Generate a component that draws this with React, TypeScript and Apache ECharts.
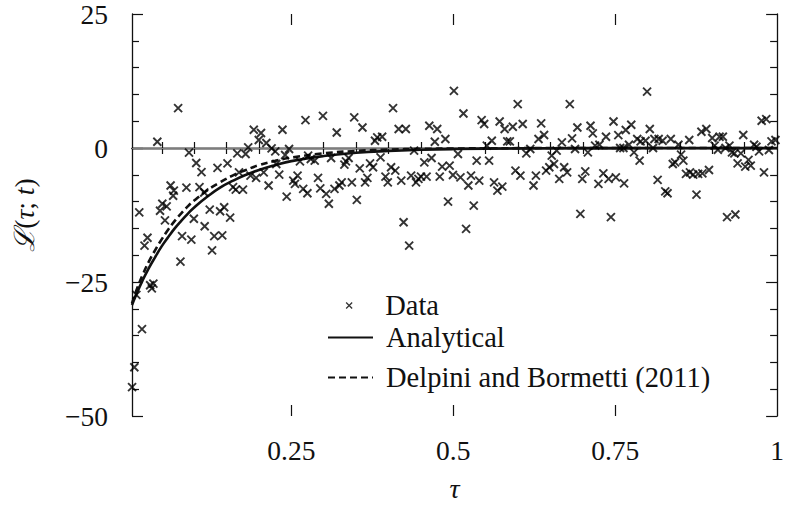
import { useEffect, useRef } from "react";
import * as echarts from "echarts";

// Scatter data (tau, L)
const dataTau = [
  0.0041, 0.0076, 0.0107, 0.0152, 0.0194, 0.0233, 0.0279, 0.032, 0.0346, 0.037,
  0.0431, 0.0473, 0.0508, 0.0549, 0.0575, 0.0636, 0.0675, 0.0686, 0.0752, 0.0788,
  0.0813, 0.088, 0.092, 0.0956, 0.0995, 0.1032, 0.1082, 0.1113, 0.1155, 0.1162,
  0.124, 0.1276, 0.131, 0.136, 0.14, 0.1433, 0.1463, 0.1514, 0.1555, 0.16,
  0.1642, 0.1666, 0.1692, 0.1753, 0.1794, 0.1834, 0.187, 0.192, 0.1956, 0.1997,
  0.2032, 0.2073, 0.2114, 0.2149, 0.2195, 0.2252, 0.2267, 0.2313, 0.2363, 0.2404,
  0.2428, 0.2465, 0.253, 0.2556, 0.2596, 0.2633, 0.2683, 0.2718, 0.2748, 0.2759,
  0.28, 0.2861, 0.2912, 0.2947, 0.2988, 0.3038, 0.3079, 0.3114, 0.3166, 0.3201,
  0.3242, 0.3277, 0.3319, 0.3343, 0.3384, 0.3434, 0.3471, 0.3511, 0.3556, 0.3598,
  0.3639, 0.3674, 0.3715, 0.3761, 0.3791, 0.3826, 0.3877, 0.3902, 0.3953, 0.3989,
  0.404, 0.407, 0.4105, 0.4157, 0.4197, 0.4233, 0.4268, 0.4319, 0.4349, 0.4395,
  0.4425, 0.4462, 0.4502, 0.4553, 0.4588, 0.463, 0.4665, 0.4715, 0.4752, 0.4791,
  0.4828, 0.4878, 0.4919, 0.4944, 0.4995, 0.501, 0.5072, 0.5111, 0.5157, 0.5198,
  0.5233, 0.5274, 0.5316, 0.5361, 0.5401, 0.5438, 0.5477, 0.5518, 0.5553, 0.5595,
  0.563, 0.5681, 0.5716, 0.5757, 0.5793, 0.5834, 0.5873, 0.5919, 0.596, 0.5995,
  0.6037, 0.6072, 0.6128, 0.6189, 0.6239, 0.6276, 0.6316, 0.6357, 0.6402, 0.6433,
  0.6483, 0.652, 0.6555, 0.6596, 0.6636, 0.6677, 0.6712, 0.6758, 0.6799, 0.6834,
  0.688, 0.6916, 0.6962, 0.6992, 0.7038, 0.7078, 0.7119, 0.7154, 0.719, 0.7241,
  0.7256, 0.7317, 0.7358, 0.7398, 0.7434, 0.7474, 0.751, 0.7548, 0.7576, 0.7627,
  0.7637, 0.7663, 0.7713, 0.7748, 0.779, 0.784, 0.7877, 0.7892, 0.7968, 0.7992,
  0.8034, 0.8084, 0.8105, 0.8155, 0.8171, 0.8232, 0.8273, 0.8308, 0.8358, 0.8389,
  0.8425, 0.8476, 0.8517, 0.8552, 0.8593, 0.8643, 0.8654, 0.8704, 0.8755, 0.878,
  0.8831, 0.8846, 0.8907, 0.8948, 0.8998, 0.9035, 0.9085, 0.9111, 0.9162, 0.9203,
  0.9227, 0.9264, 0.9303, 0.934, 0.9355, 0.939, 0.944, 0.9477, 0.9508, 0.9558,
  0.9593, 0.9645, 0.968, 0.9721, 0.9761, 0.9797, 0.9832, 0.9873, 0.9913, 0.9974,
];
const dataL = [
  -44.6, -40.9, -27.4, -12.0, -33.8, -18.2, -16.75, -25.6, -26.2, -25.3,
  1.17, -11.7, -10.4, -13.5, -10.9, -7.0, -8.9, -7.95, 7.44, -21.2,
  -16.45, -7.4, -0.87, -17.1, -13.2, -2.8, -7.3, -4.5, -8.3, -14.6,
  -11.5, -19.1, -16.45, -3.7, -11.8, -16.3, -11.05, -2.87, -13.0, -7.3,
  -7.76, -1.0, -4.54, -7.76, -1.12, 0.11, -5.16, 3.4, -5.58, 1.49,
  2.79, -4.54, 0.93, -7.0, -0.07, -0.63, -2.98, -4.97, 3.4, -1.3,
  -9.06, -0.19, -6.09, -6.7, -5.16, -2.49, -7.63, 5.2, -8.45, -1.43,
  -2.05, -2.36, -5.58, -7.52, 6.0, -8.56, -10.4, -1.86, -7.63, 2.9,
  -7.0, -6.4, -3.1, -2.49, -1.86, -6.4, 5.7, -9.68, -3.8, 3.83,
  -6.4, -5.58, -2.87, -3.6, 1.36, 1.97, -1.75, 2.1, -5.34, -6.4,
  -3.6, 7.44, -4.22, 3.54, -6.09, -13.85, 3.54, -18.2, -5.16, -0.5,
  -6.4, -5.77, -5.34, -2.68, -5.34, 4.15, -1.86, 1.17, 3.54, -5.34,
  -3.48, 1.68, -10.0, -3.3, -5.03, 10.66, -1.12, -5.47, 6.44, -15.1,
  -7.0, -5.16, -10.74, -2.36, -6.09, 5.2, 4.47, 0.43, -2.36, 1.36,
  -6.4, -7.95, 4.95, -7.2, 3.54, 1.23, 1.23, 3.96, -4.22, 8.19,
  -5.16, 4.47, -1.0, -0.19, -7.0, -5.16, 1.68, 4.58, 2.42, -4.22,
  -3.6, -1.43, -2.98, -0.5, -5.77, 1.04, -3.6, -4.54, 8.19, 1.79,
  -0.19, 3.83, -12.3, -5.77, -4.36, -0.82, 4.15, 2.72, 0.43, -6.7,
  0.61, -4.73, 2.1, -5.77, -12.9, 4.95, -5.47, 2.4, 0.0, 0.0,
  -6.59, 3.35, 0.61, 4.34, -0.82, 1.68, -2.36, 1.23, 1.36, 10.53,
  3.54, 0.0, 1.68, -5.96, 1.68, 1.36, -8.08, -8.45, 1.68, -2.98,
  -2.68, 0.61, -1.25, -2.36, -4.84, 1.49, -4.54, -4.97, -8.69, -4.84,
  3.03, -4.73, 3.54, -4.1, 1.86, 0.43, -0.32, 2.1, 2.1, 0.0,
  -12.9, 0.43, -0.82, -1.0, -12.4, -2.87, -1.0, 2.42, -3.48, -2.23,
  -3.3, 0.61, 0.24, -0.63, 5.08, -4.54, 5.4, -0.37, 1.23, 1.49,
];

// Analytical curve
const analyticalTau = [
  0.004, 0.01, 0.02, 0.03, 0.04, 0.05, 0.06, 0.07, 0.08, 0.09, 0.1, 0.12, 0.14,
  0.16, 0.18, 0.2, 0.225, 0.25, 0.3, 0.35, 0.4, 0.45, 0.5, 0.6, 0.7, 0.8, 0.9, 1.0,
];
const analyticalL = [
  -29.3, -27.5, -24.8, -22.4, -20.3, -18.3, -16.6, -15.0, -13.6, -12.3, -11.1, -9.1, -7.4,
  -6.1, -5.0, -4.1, -3.2, -2.45, -1.5, -0.9, -0.55, -0.33, -0.2, -0.07, -0.03, -0.01, 0, 0,
];

// Delpini and Bormetti (2011) curve
const delpiniTau = [
  0.004, 0.01, 0.02, 0.03, 0.04, 0.05, 0.06, 0.07, 0.08, 0.09, 0.1, 0.12, 0.14,
  0.16, 0.18, 0.2, 0.225, 0.25, 0.3, 0.35, 0.4, 0.45, 0.5, 0.6, 0.7, 1.0,
];
const delpiniL = [
  -29.0, -26.8, -23.8, -21.2, -19.0, -17.0, -15.2, -13.6, -12.2, -10.9, -9.8, -7.9, -6.4,
  -5.1, -4.1, -3.2, -2.4, -1.8, -1.0, -0.55, -0.3, -0.17, -0.1, -0.03, 0, 0,
];

const xMajorLabels = [0.25, 0.5, 0.75, 1];
const xMajorTicks = [0.25, 0.5, 0.75];
const xMinorTicks = [
  0.05, 0.1, 0.15, 0.2, 0.3, 0.35, 0.4, 0.45, 0.55, 0.6, 0.65, 0.7, 0.8, 0.85, 0.9, 0.95,
];

const FONT = "Liberation Serif, DejaVu Serif, serif";
const INK = "#111111";

export default function App() {
  const ref = useRef<HTMLDivElement>(null);
  useEffect(() => {
    document.body.style.margin = "0";
    if (!ref.current) return;
    const chart = echarts.init(ref.current, undefined, { renderer: "svg" });
    const axisLine = { show: true, lineStyle: { color: INK, width: 1.3 } };
    const tickLine = { color: INK, width: 1.2 };
    const scatter = dataTau.map((t, i) => [t, dataL[i]]);
    const analytical = analyticalTau.map((t, i) => [t, analyticalL[i]]);
    const delpini = delpiniTau.map((t, i) => [t, delpiniL[i]]);
    const baseX = { type: "value", min: 0.004, max: 1, splitLine: { show: false } };
    const textStyle = { fontFamily: FONT, fontSize: 28.5, color: INK, lineHeight: 28 };

    chart.setOption({
      animation: false,
      backgroundColor: "#ffffff",
      textStyle: { fontFamily: FONT },
      grid: { left: 132, right: 2, top: 13, bottom: 92, containLabel: false },
      xAxis: [
        {
          ...baseX,
          position: "bottom",
          axisLine,
          axisTick: { show: true, inside: true, length: 6, customValues: xMinorTicks, lineStyle: tickLine },
          axisLabel: {
            show: true,
            customValues: xMajorLabels,
            margin: 20,
            fontFamily: FONT,
            fontSize: 27.5,
            color: INK,
            formatter: (v: number) => (v === 1 ? "1" : String(v)),
          },
          name: "τ",
          nameLocation: "middle",
          nameGap: 58,
          nameTextStyle: { fontFamily: FONT, fontSize: 28, fontStyle: "italic", color: INK },
        },
        {
          ...baseX,
          position: "top",
          axisLine,
          axisTick: { show: true, inside: true, length: 6, customValues: xMinorTicks, lineStyle: tickLine },
          axisLabel: { show: false },
        },
        {
          ...baseX,
          position: "bottom",
          axisLine: { show: false },
          axisTick: { show: true, inside: true, length: 11, customValues: xMajorTicks, lineStyle: tickLine },
          axisLabel: { show: false },
        },
        {
          ...baseX,
          position: "top",
          axisLine: { show: false },
          axisTick: { show: true, inside: true, length: 11, customValues: xMajorTicks, lineStyle: tickLine },
          axisLabel: { show: false },
        },
      ],
      yAxis: [
        {
          type: "value",
          min: -50,
          max: 25,
          interval: 25,
          position: "left",
          axisLine,
          axisTick: { show: true, inside: true, length: 11, lineStyle: tickLine },
          minorTick: { show: true, splitNumber: 5, length: 7, lineStyle: tickLine },
          splitLine: { show: false },
          minorSplitLine: { show: false },
          axisLabel: {
            margin: 24,
            fontFamily: FONT,
            fontSize: 27.5,
            color: INK,
            formatter: (v: number) => (v < 0 ? "\u2212" + Math.abs(v) : String(v)),
          },
          name: "{s|ℒ}{n|(}{i|τ}{n|;}{i| t}{n|)}",
          nameLocation: "middle",
          nameGap: 94,
          nameRotate: 90,
          nameTextStyle: {
            color: INK,
            fontFamily: FONT,
            rich: {
              s: { fontFamily: FONT, fontSize: 28, fontStyle: "italic", color: INK },
              n: { fontFamily: FONT, fontSize: 27.5, color: INK },
              i: { fontFamily: FONT, fontSize: 27.5, fontStyle: "italic", color: INK },
            },
          },
        },
        {
          type: "value",
          min: -50,
          max: 25,
          interval: 25,
          position: "right",
          axisLine,
          axisTick: { show: true, inside: true, length: 11, lineStyle: tickLine },
          minorTick: { show: true, splitNumber: 5, length: 7, lineStyle: tickLine },
          splitLine: { show: false },
          minorSplitLine: { show: false },
          axisLabel: { show: false },
        },
      ],
      legend: [
        {
          data: ["Data"],
          left: 340.5,
          top: 286,
          itemWidth: 6,
          itemHeight: 6,
          selectedMode: false,
          itemStyle: { borderWidth: 1.3 },
          textStyle: { ...textStyle, padding: [0, 0, 0, 28] },
        },
        {
          data: ["Analytical"],
          left: 322,
          top: 318,
          itemWidth: 45,
          itemHeight: 14,
          selectedMode: false,
          itemStyle: { opacity: 0 },
          textStyle: { ...textStyle, padding: [0, 0, 0, 8] },
        },
        {
          data: ["Delpini and Bormetti (2011)"],
          left: 322,
          top: 358,
          itemWidth: 45,
          itemHeight: 14,
          selectedMode: false,
          itemStyle: { opacity: 0 },
          textStyle: { ...textStyle, padding: [0, 0, 0, 8] },
        },
      ],
      series: [
        {
          name: "Analytical",
          type: "line",
          data: analytical,
          smooth: true,
          symbol: "none",
          showSymbol: false,
          lineStyle: { color: "#111", width: 2.6, type: "solid" },
          itemStyle: { color: "#111" },
          z: 2,
          markLine: {
            silent: true,
            symbol: "none",
            label: { show: false },
            lineStyle: { color: "#999", width: 0.8, type: "solid" },
            data: [{ yAxis: 0 }],
            z: 1,
          },
        },
        {
          name: "Delpini and Bormetti (2011)",
          type: "line",
          data: delpini,
          smooth: true,
          symbol: "none",
          showSymbol: false,
          lineStyle: { color: "#111", width: 2.6, type: [7, 4] },
          itemStyle: { color: "#111" },
          z: 2,
        },
        {
          name: "Data",
          type: "scatter",
          data: scatter,
          symbol: "path://M0,0L10,10M10,0L0,10",
          symbolSize: 8,
          itemStyle: { color: "#000", borderColor: "#000", borderWidth: 1.9 },
          z: 3,
        },
      ],
    });
    return () => chart.dispose();
  }, []);
  return <div ref={ref} style={{ width: 787, height: 508 }} />;
}
